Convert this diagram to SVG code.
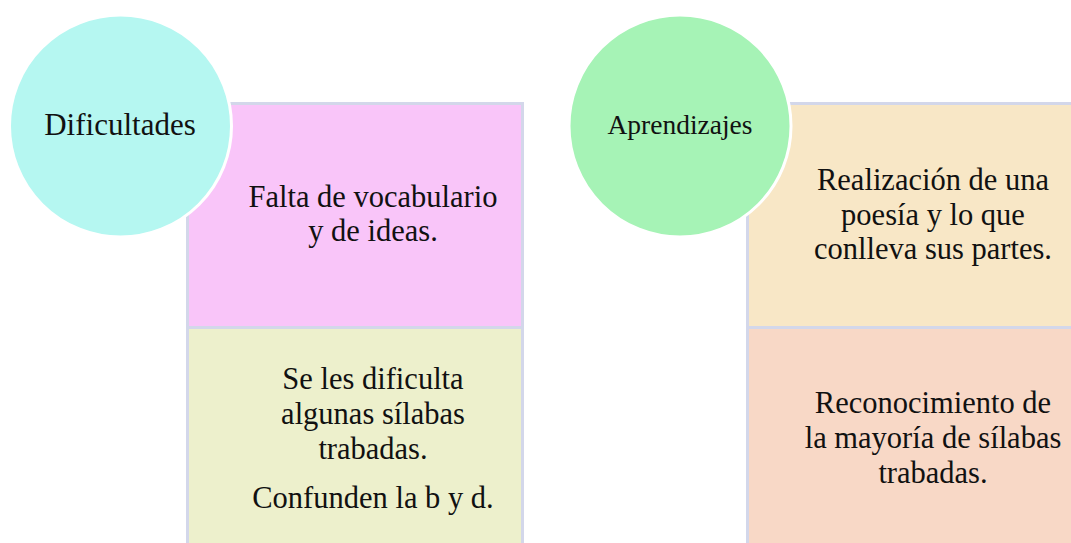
<svg xmlns="http://www.w3.org/2000/svg" width="1071" height="543" viewBox="0 0 1071 543">
<style>
.box{stroke:#d3d7ea;stroke-width:3}
.circ{stroke:#ffffff;stroke-width:3}
text{font-family:"Liberation Serif","Times New Roman",serif;fill:#111;text-anchor:middle}
.t{font-size:30.5px}
</style>
<rect width="1071" height="543" fill="#ffffff"/>
<g id="dif-box1"><rect class="box" x="187.5" y="103.5" width="335" height="224" fill="#f9c5f9"/>
<text class="t" x="373" y="207">Falta de vocabulario</text><text class="t" x="373" y="241">y de ideas.</text></g>
<g id="dif-box2"><rect class="box" x="187.5" y="327.5" width="335" height="220" fill="#edf0cc"/>
<text class="t" x="373" y="389">Se les dificulta</text><text class="t" x="373" y="424">algunas sílabas</text><text class="t" x="373" y="459">trabadas.</text><text class="t" x="373" y="508">Confunden la b y d.</text></g>
<g id="dificultades"><circle class="circ" cx="120.5" cy="126" r="111" fill="#b5f7f1"/><text x="120" y="135" font-size="31">Dificultades</text></g>
<g id="apr-box1"><rect class="box" x="747.5" y="103.5" width="335" height="224" fill="#f8e7c6"/>
<text class="t" x="933" y="190">Realización de una</text><text class="t" x="933" y="225">poesía y lo que</text><text class="t" x="933" y="259">conlleva sus partes.</text></g>
<g id="apr-box2"><rect class="box" x="747.5" y="327.5" width="335" height="220" fill="#f8d8c6"/>
<text class="t" x="933" y="413">Reconocimiento de</text><text class="t" x="933" y="448">la mayoría de sílabas</text><text class="t" x="933" y="483">trabadas.</text></g>
<g id="aprendizajes"><circle class="circ" cx="680" cy="126" r="111" fill="#a6f3b6"/><text x="680" y="134" font-size="27.5">Aprendizajes</text></g>
<g id="connectors"/>
</svg>
